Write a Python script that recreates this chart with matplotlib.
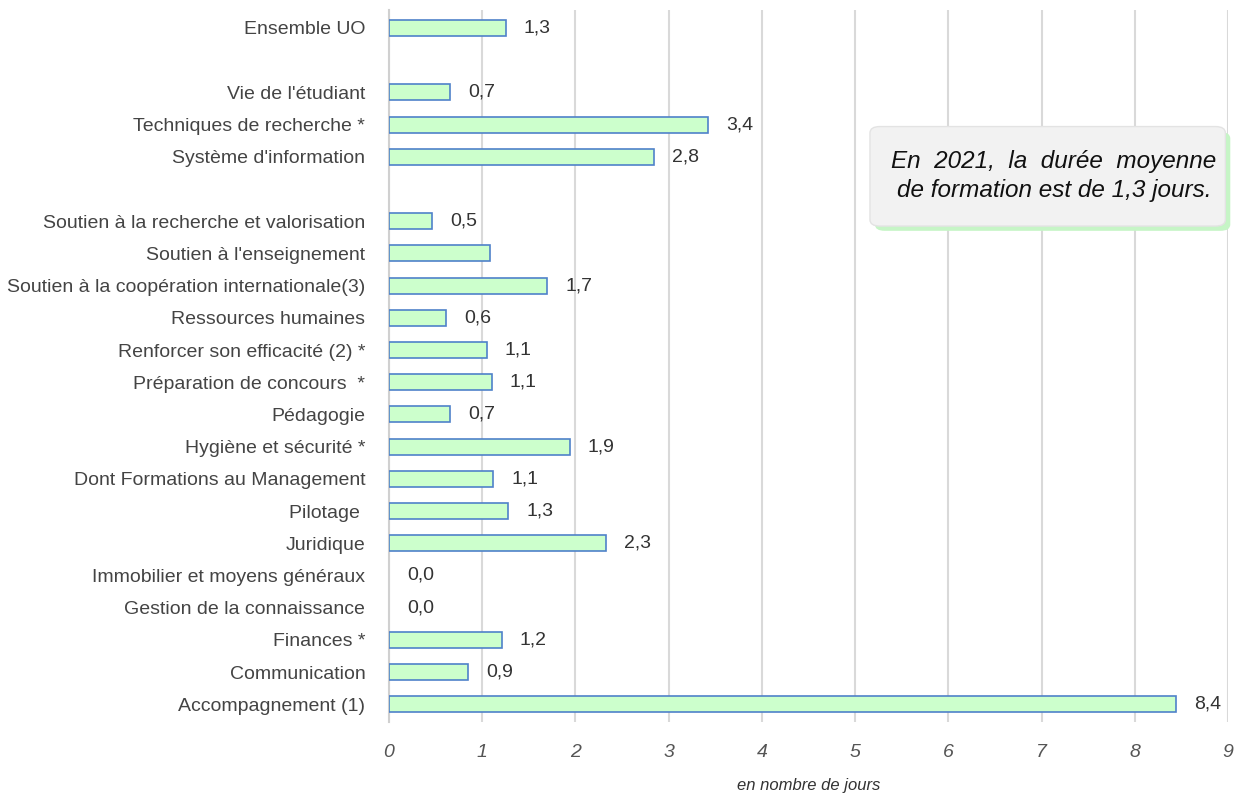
import matplotlib.pyplot as plt
from matplotlib.patches import FancyBboxPatch

# categories top to bottom, None = empty row used as a gap
categories = [
    "Ensemble UO",
    None,
    "Vie de l'étudiant",
    "Techniques de recherche *",
    "Système d'information",
    None,
    "Soutien à la recherche et valorisation",
    "Soutien à l'enseignement",
    "Soutien à la coopération internationale(3)",
    "Ressources humaines",
    "Renforcer son efficacité (2) *",
    "Préparation de concours  *",
    "Pédagogie",
    "Hygiène et sécurité *",
    "Dont Formations au Management",
    "Pilotage ",
    "Juridique",
    "Immobilier et moyens généraux",
    "Gestion de la connaissance",
    "Finances *",
    "Communication",
    "Accompagnement (1)",
]
values = [1.25, None, 0.66, 3.42, 2.84, None, 0.46, 1.08, 1.70, 0.61, 1.05,
          1.10, 0.66, 1.94, 1.12, 1.28, 2.33, 0.0, 0.0, 1.21, 0.85, 8.44]
# shown labels (Soutien à l'enseignement has none in the source)
value_labels = ["1,3", None, "0,7", "3,4", "2,8", None, "0,5", None, "1,7",
                "0,6", "1,1", "1,1", "0,7", "1,9", "1,1", "1,3", "2,3", "0,0",
                "0,0", "1,2", "0,9", "8,4"]

note = "En  2021,  la  durée  moyenne\nde formation est de 1,3 jours."
font = ['Liberation Sans', 'DejaVu Sans']

fig = plt.figure(figsize=(12.34, 7.96), dpi=100)
ax = fig.add_axes([0.3152, 0.093, 0.6800, 0.8945])

rows = [i for i, v in enumerate(values) if v is not None]
vals = [values[i] for i in rows]
edges = ['#4f81c9' if v > 0 else 'none' for v in vals]
ax.barh(rows, vals, height=0.5, color='#ccffcc', edgecolor=edges,
        linewidth=1.2, zorder=3)

for i in rows:
    lab = value_labels[i]
    if lab is None:
        continue
    ax.annotate(lab, (values[i], i), xytext=(13, 0), textcoords='offset points',
                va='center', ha='left', fontsize=14, color='#333333',
                family=font)

ax.set_xlim(0, 9)
ax.set_ylim(21.55, -0.56)
ax.set_xticks(range(10))
ax.set_xticklabels([str(t) for t in range(10)], fontsize=14, style='italic',
                   color='#555555', family=font)
ax.set_yticks(range(len(categories)))
ax.set_yticklabels([c if c else "" for c in categories], fontsize=14,
                   color='#444444', family=font)
ax.tick_params(axis='both', length=0)
ax.tick_params(axis='x', pad=16)
ax.tick_params(axis='y', pad=17)
ax.grid(axis='x', color='#d9d9d9', linewidth=1.5, zorder=0)
for s in ['top', 'right', 'bottom']:
    ax.spines[s].set_visible(False)
ax.spines['left'].set_color('#d0d0d0')
ax.spines['left'].set_linewidth(1.5)

fig.text(0.655, 0.008, "en nombre de jours", fontsize=12, style='italic',
         color='#333333', ha='center', family=font)

# callout box with green shadow
shadow = FancyBboxPatch((0.709, 0.710), 0.288, 0.124,
                        boxstyle="round,pad=0,rounding_size=0.008",
                        transform=fig.transFigure, facecolor='#c6f5c6',
                        edgecolor='none', zorder=4)
box = FancyBboxPatch((0.705, 0.716), 0.288, 0.125,
                     boxstyle="round,pad=0,rounding_size=0.008",
                     transform=fig.transFigure, facecolor='#f2f2f2',
                     edgecolor='#e3e3e3', zorder=5)
fig.patches.extend([shadow, box])
fig.text(0.854, 0.779, note, fontsize=17.5, style='italic', color='#111111',
         ha='center', va='center', linespacing=1.3, family=font, zorder=6)

fig.savefig("out.png", dpi=100)
